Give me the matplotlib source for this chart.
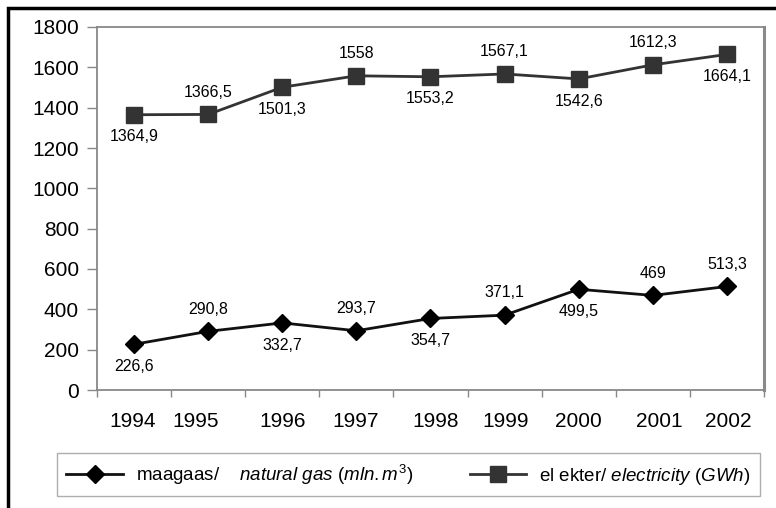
import matplotlib.pyplot as plt
from matplotlib.lines import Line2D
from matplotlib.patches import Rectangle
from matplotlib.transforms import ScaledTranslation

plt.rcParams['font.family'] = ['Liberation Sans', 'DejaVu Sans']
plt.rcParams['mathtext.fontset'] = 'custom'
plt.rcParams['mathtext.rm'] = 'Liberation Sans'
plt.rcParams['mathtext.it'] = 'Liberation Sans:italic'

years = ['1994', '1995', '1996', '1997', '1998', '1999', '2000', '2001', '2002']
gas = [226.6, 290.8, 332.7, 293.7, 354.7, 371.1, 499.5, 469, 513.3]
electricity = [1364.9, 1366.5, 1501.3, 1558, 1553.2, 1567.1, 1542.6, 1612.3, 1664.1]
# label above (+1) or below (-1) the point
gas_pos = [-1, 1, -1, 1, -1, 1, -1, 1, 1]
el_pos = [-1, 1, -1, 1, -1, 1, -1, 1, -1]
# the year labels are not quite centred in the original (pixels)
year_shift = [-1, -13, 0, -1, 5, 1, 0, 6, 1]

fig = plt.figure(figsize=(7.76, 5.08), dpi=100)
ax = fig.add_axes([97 / 776, 1 - 390 / 508, 667 / 776, 363 / 508])

x = list(range(len(years)))
ax.plot(x, gas, color='#111111', lw=2, marker='D', ms=9.5, mfc='black', mec='black')
ax.plot(x, electricity, color='#333333', lw=2, marker='s', ms=12, mfc='#333333', mec='#333333')

def fmt(v):
    return f'{v:g}'.replace('.', ',')

for xi, v, p in zip(x, gas, gas_pos):
    ax.annotate(fmt(v), (xi, v), xytext=(0, 16 * p), textcoords='offset points',
                ha='center', va='center', fontsize=11.5)
for xi, v, p in zip(x, electricity, el_pos):
    ax.annotate(fmt(v), (xi, v), xytext=(0, 16 * p), textcoords='offset points',
                ha='center', va='center', fontsize=11.5)

ax.set_xlim(-0.5, len(years) - 0.5)
ax.set_ylim(0, 1800)
ax.set_yticks(range(0, 1801, 200))
ax.tick_params(axis='y', labelsize=15, length=7, color='#888888', width=1, pad=6)
ax.set_xticks([i - 0.5 for i in range(len(years) + 1)])
ax.set_xticklabels([])
ax.tick_params(axis='x', length=5, color='#888888', width=1)
ax.set_xticks(x, minor=True)
ax.set_xticklabels(years, minor=True, fontsize=15)
ax.tick_params(axis='x', which='minor', length=0, pad=16)
for lab, dx in zip(ax.get_xticklabels(minor=True), year_shift):
    lab.set_transform(lab.get_transform() + ScaledTranslation(dx / 100, 0, fig.dpi_scale_trans))

for side in ['left', 'bottom', 'top']:
    ax.spines[side].set_color('#888888')
    ax.spines[side].set_linewidth(1.3)
ax.spines['right'].set_color('#8a8a8a')
ax.spines['right'].set_linewidth(2.2)

handles = [
    Line2D([], [], color='#111111', lw=2, marker='D', ms=9.5, mfc='black', mec='black'),
    Line2D([], [], color='#333333', lw=2, marker='s', ms=12, mfc='#333333', mec='#333333'),
]
labels = [
    r'maagaas/    $\mathit{natural\ gas\ (mln.m^3)}$',
    r'el ekter/ $\mathit{electricity\ (GWh)}$',
]
leg = fig.legend(handles, labels, loc='lower left',
                 bbox_to_anchor=(57 / 776, 1 - 496 / 508, 703 / 776, 39 / 508), mode='expand',
                 ncol=2, fontsize=13.5, frameon=True, fancybox=False, edgecolor='#999999',
                 handlelength=3, handletextpad=0.7, columnspacing=2, borderpad=0.5,
                 borderaxespad=0)
leg.get_frame().set_linewidth(1)

# outer black frame (right and bottom edges fall outside the picture)
fig.patches.append(Rectangle((8 / 776, -0.1), 1.2, 1.1 - 8 / 508, transform=fig.transFigure,
                             fill=False, edgecolor='black', lw=2.5))

fig.savefig('out.png', dpi=100)
